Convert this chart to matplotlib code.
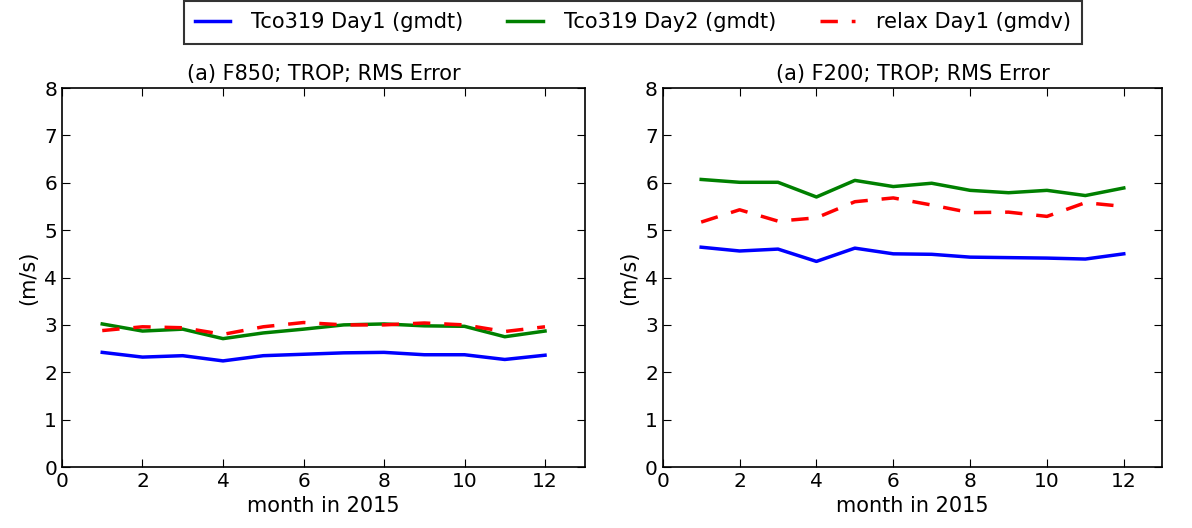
import matplotlib
matplotlib.use('Agg')
import matplotlib.pyplot as plt

months = [1, 2, 3, 4, 5, 6, 7, 8, 9, 10, 11, 12]

# F850
f850_day1 = [2.42, 2.32, 2.35, 2.24, 2.35, 2.38, 2.41, 2.42, 2.37, 2.37, 2.27, 2.36]
f850_day2 = [3.02, 2.87, 2.91, 2.71, 2.83, 2.91, 3.00, 3.02, 2.98, 2.97, 2.75, 2.87]
f850_relax = [2.88, 2.96, 2.94, 2.80, 2.96, 3.05, 3.00, 3.00, 3.04, 3.00, 2.86, 2.96]

# F200
f200_day1 = [4.64, 4.56, 4.60, 4.34, 4.62, 4.50, 4.49, 4.43, 4.42, 4.41, 4.39, 4.50]
f200_day2 = [6.07, 6.01, 6.01, 5.70, 6.05, 5.92, 5.99, 5.84, 5.79, 5.84, 5.73, 5.89]
f200_relax = [5.17, 5.43, 5.19, 5.26, 5.60, 5.68, 5.53, 5.37, 5.38, 5.29, 5.58, 5.50]

titles = ['(a) F850; TROP; RMS Error', '(a) F200; TROP; RMS Error']
labels = ['Tco319 Day1 (gmdt)', 'Tco319 Day2 (gmdt)', 'relax Day1 (gmdv)']
panels = [(f850_day1, f850_day2, f850_relax), (f200_day1, f200_day2, f200_relax)]

plt.rcParams['font.family'] = 'DejaVu Sans'

fig = plt.figure(figsize=(11.92, 5.28), dpi=100)
axes = [fig.add_axes([0.052, 0.1155, 0.439, 0.7178]),
        fig.add_axes([0.556, 0.1155, 0.419, 0.7178])]

handles = None
for ax, (d1, d2, rl), title in zip(axes, panels, titles):
	h1, = ax.plot(months, d1, '-', color='blue', lw=2.5)
	h2, = ax.plot(months, d2, '-', color='green', lw=2.5)
	h3, = ax.plot(months, rl, '--', color='red', lw=2.5, dashes=(5, 4))
	handles = [h1, h2, h3]
	ax.set_xlim(0, 13)
	ax.set_ylim(0, 8)
	ax.set_xticks([0, 2, 4, 6, 8, 10, 12])
	ax.set_yticks(range(0, 9))
	ax.tick_params(direction='in', top=True, right=True, length=6, labelsize=14.5)
	for s in ax.spines.values():
		s.set_linewidth(1.2)
	ax.set_title(title, fontsize=15, pad=6)
	ax.set_xlabel('month in 2015', fontsize=15, labelpad=4)
	ax.set_ylabel('(m/s)', fontsize=15)

leg = fig.legend(handles, labels, loc='upper center', bbox_to_anchor=(0.531, 1.0),
	ncol=3, frameon=True, fancybox=False, fontsize=15, handlelength=1.7,
	handletextpad=1.0, columnspacing=2.1, borderpad=0.55, borderaxespad=0.05)
leg.get_frame().set_edgecolor('black')
leg.get_frame().set_linewidth(1.5)

fig.savefig('out.png', dpi=100)
